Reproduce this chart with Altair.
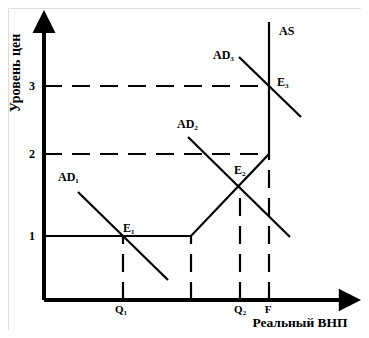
import altair as alt
import pandas as pd

Q1, QK, Q2, F = 7.9, 14.7, 19.6, 22.5
P1, P2, P3 = 6.4, 14.6, 21.4
E2_Y = 11.3
AS_TOP = 27.8

# Axis extents (arrow heads)
X_AXIS_END, X_ARROW = 29.6, 30.6
Y_AXIS_END, Y_ARROW = 26.7, 27.85

# Aggregate supply (Keynesian / intermediate / classical segments)
as_x = [0, QK, F, F]
as_y = [P1, P1, P2, AS_TOP]

# Aggregate demand curves
ad1_x = [3.4, 12.4]
ad1_y = [10.8, 2.0]
ad2_x = [14.4, 24.6]
ad2_y = [16.3, 6.3]
ad3_x = [19.5, 25.7]
ad3_y = [24.3, 18.3]

# Dashed guide lines (x, y, x2, y2)
guide_x = [0, 0, Q1, QK, Q2, F]
guide_y = [P2, P3, 0, 0, 0, 0]
guide_x2 = [F, F, Q1, QK, Q2, F]
guide_y2 = [P2, P3, P1, P1, E2_Y, P2]

# Labels
curve_labels = ["AS", "AD\u2083", "E\u2083", "AD\u2082", "E\u2082", "AD\u2081", "E\u2081"]
curve_lab_x = [23.5, 16.9, 23.3, 13.3, 19.0, 1.4, 7.9]
curve_lab_y = [26.9, 24.5, 21.8, 17.6, 13.0, 12.3, 7.2]

q_labels = ["Q\u2081", "Q\u2082", "F"]
q_lab_x = [7.7, 19.6, 22.4]
q_lab_y = [-0.95, -0.95, -0.95]

p_labels = ["1", "2", "3"]
p_lab_x = [-1.2, -1.2, -1.2]
p_lab_y = [P1, P2, P3]

x_title = "Реальный ВНП"
y_title = "Уровень цен"

FONT = "Liberation Serif"

xs = alt.Scale(domain=[-3.6, 31.7], nice=False, zero=False)
ys = alt.Scale(domain=[-3.0, 29.2], nice=False, zero=False)


def X(f="x"):
    return alt.X(f"{f}:Q", scale=xs, axis=None)


def Y(f="y"):
    return alt.Y(f"{f}:Q", scale=ys, axis=None)


curves = []
for name, cx, cy in [("AS", as_x, as_y), ("AD1", ad1_x, ad1_y),
                     ("AD2", ad2_x, ad2_y), ("AD3", ad3_x, ad3_y)]:
    for i, (a, b) in enumerate(zip(cx, cy)):
        curves.append({"curve": name, "i": i, "x": a, "y": b})
curves_df = pd.DataFrame(curves)

guides_df = pd.DataFrame({"x": guide_x, "y": guide_y, "x2": guide_x2, "y2": guide_y2})
axes_df = pd.DataFrame({"x": [0, 0], "y": [0, 0], "x2": [0, X_AXIS_END], "y2": [Y_AXIS_END, 0]})

guides = alt.Chart(guides_df).mark_rule(
    color="black", strokeWidth=2.2, strokeDash=[18, 10]
).encode(x=X(), y=Y(), x2="x2:Q", y2="y2:Q")

axes = alt.Chart(axes_df).mark_rule(color="black", strokeWidth=4).encode(
    x=X(), y=Y(), x2="x2:Q", y2="y2:Q"
)

up_head = alt.Chart(pd.DataFrame({"x": [0], "y": [Y_ARROW]})).mark_point(
    shape="M-1,1L0,-1L1,1Z", size=530, filled=True, color="black", opacity=1
).encode(x=X(), y=Y())

right_head = alt.Chart(pd.DataFrame({"x": [X_ARROW], "y": [0]})).mark_point(
    shape="M-1,-1L1,0L-1,1Z", size=500, filled=True, color="black", opacity=1
).encode(x=X(), y=Y())

lines = alt.Chart(curves_df).mark_line(color="black", strokeWidth=2.2).encode(
    x=X(), y=Y(), detail="curve:N", order="i:Q"
)

curve_text = alt.Chart(pd.DataFrame({"x": curve_lab_x, "y": curve_lab_y, "t": curve_labels})).mark_text(
    align="left", baseline="middle", font=FONT, fontWeight="bold", fontSize=12, color="black"
).encode(x=X(), y=Y(), text="t:N")

q_text = alt.Chart(pd.DataFrame({"x": q_lab_x, "y": q_lab_y, "t": q_labels})).mark_text(
    align="center", baseline="middle", font=FONT, fontWeight="bold", fontSize=11, color="black"
).encode(x=X(), y=Y(), text="t:N")

p_text = alt.Chart(pd.DataFrame({"x": p_lab_x, "y": p_lab_y, "t": p_labels})).mark_text(
    align="center", baseline="middle", font=FONT, fontWeight="bold", fontSize=12, color="black"
).encode(x=X(), y=Y(), text="t:N")

xt = alt.Chart(pd.DataFrame({"x": [25.6], "y": [-2.7], "t": [x_title]})).mark_text(
    align="center", baseline="alphabetic", font=FONT, fontWeight="bold", fontSize=13.5, color="black"
).encode(x=X(), y=Y(), text="t:N")

yt = alt.Chart(pd.DataFrame({"x": [-2.8], "y": [22.7], "t": [y_title]})).mark_text(
    align="center", baseline="middle", font=FONT, fontWeight="bold", fontSize=14, color="black", angle=270
).encode(x=X(), y=Y(), text="t:N")

chart = alt.layer(
    guides, axes, up_head, right_head, lines, curve_text, q_text, p_text, xt, yt
).properties(
    width=353, height=322, padding=0, autosize=alt.AutoSizeParams(type="none")
).configure_view(stroke=None).configure(background="white")

chart.save("out.html", embed_options={"renderer": "svg", "actions": False})
